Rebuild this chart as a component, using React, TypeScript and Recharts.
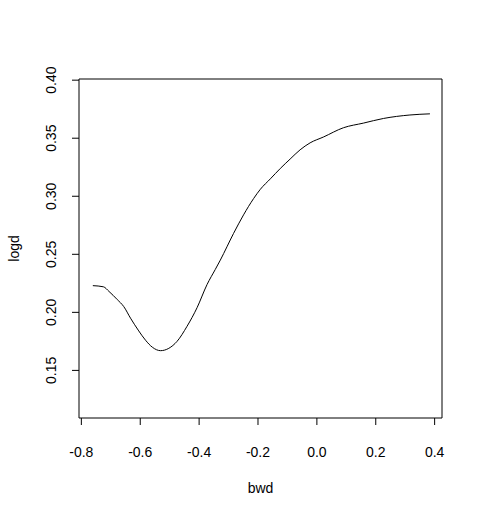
import { LineChart, Line, XAxis, YAxis, ReferenceArea } from "recharts";

// values
const bwd = [
  -0.761, -0.725, -0.706, -0.678, -0.656, -0.633, -0.605, -0.582, -0.559, -0.531,
  -0.503, -0.475, -0.441, -0.407, -0.373, -0.345, -0.328, -0.283, -0.249, -0.215,
  -0.192, -0.158, -0.124, -0.091, -0.057, -0.023, 0.022, 0.090, 0.158, 0.226,
  0.316, 0.384,
];
const logd = [
  0.223, 0.222, 0.218, 0.211, 0.205, 0.195, 0.184, 0.176, 0.170, 0.167,
  0.169, 0.175, 0.188, 0.204, 0.224, 0.237, 0.245, 0.268, 0.284, 0.298,
  0.306, 0.315, 0.324, 0.332, 0.340, 0.346, 0.351, 0.359, 0.363, 0.367,
  0.370, 0.371,
];
const xTicks = [-0.8, -0.6, -0.4, -0.2, 0.0, 0.2, 0.4];
const yTicks = [0.15, 0.2, 0.25, 0.3, 0.35, 0.4];

const xDomain: [number, number] = [-0.808, 0.425];
const yDomain: [number, number] = [0.109, 0.401];

const data = bwd.map((x, i) => ({ bwd: x, logd: logd[i] }));

const font = "'Liberation Sans', Arial, sans-serif";

function YTick(props: any) {
  const { x, y, payload } = props;
  return (
    <text
      x={x}
      y={y}
      transform={`rotate(-90, ${x}, ${y})`}
      textAnchor="middle"
      fontSize={14}
      fontFamily={font}
      fill="#000"
    >
      {payload.value.toFixed(2)}
    </text>
  );
}

export default function App() {
  return (
    <div style={{ position: "absolute", left: 0, top: 0, background: "#fff" }}>
      <LineChart
        width={483}
        height={516}
        data={data}
        margin={{ top: 79, right: 41, bottom: 0, left: 0 }}
      >
        <XAxis
          dataKey="bwd"
          type="number"
          domain={xDomain}
          ticks={xTicks}
          tickFormatter={(v: number) => v.toFixed(1)}
          allowDataOverflow
          axisLine={false}
          tickLine={{ stroke: "#000" }}
          tickSize={7}
          tickMargin={22}
          height={98}
          tick={{ fontSize: 14, fill: "#000", fontFamily: font }}
          label={{
            value: "bwd",
            position: "insideBottom",
            offset: 23,
            style: { fontSize: 14, fill: "#000", fontFamily: font },
          }}
        />
        <YAxis
          type="number"
          domain={yDomain}
          ticks={yTicks}
          allowDataOverflow
          axisLine={false}
          tickLine={{ stroke: "#000" }}
          tickSize={7}
          tickMargin={16}
          width={79}
          tick={<YTick />}
          label={{
            value: "logd",
            angle: -90,
            position: "insideLeft",
            offset: 14,
            style: { fontSize: 14, fill: "#000", fontFamily: font, textAnchor: "middle" },
          }}
        />
        <ReferenceArea
          x1={xDomain[0]}
          x2={xDomain[1]}
          y1={yDomain[0]}
          y2={yDomain[1]}
          fill="none"
          stroke="#000"
          strokeWidth={1}
          ifOverflow="visible"
        />
        <Line
          dataKey="logd"
          type="monotone"
          stroke="#000"
          strokeWidth={1}
          dot={false}
          isAnimationActive={false}
        />
      </LineChart>
    </div>
  );
}
